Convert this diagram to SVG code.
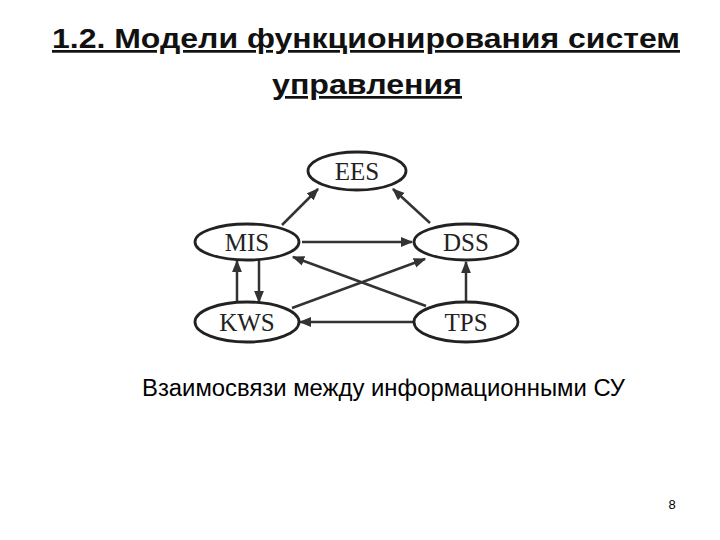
<svg xmlns="http://www.w3.org/2000/svg" width="720" height="540" viewBox="0 0 720 540">
<style>
.t{font-family:"Liberation Sans",Arial,sans-serif;font-weight:bold;font-size:27px;text-decoration:underline;fill:#111}
.n ellipse{fill:#fff;stroke:#222;stroke-width:2.8}
.n text{font-family:"Liberation Serif","Times New Roman",serif;font-size:25px;fill:#222;text-anchor:middle}
.c line{stroke:#333;stroke-width:2.5;marker-end:url(#a)}
</style>
<defs><marker id="a" viewBox="0 0 10 10" refX="9" refY="5" markerWidth="5" markerHeight="5" orient="auto" markerUnits="strokeWidth"><path d="M0,1L10,5L0,9z" fill="#333"/></marker></defs>
<rect width="720" height="540" fill="#fff"/>
<text class="t" x="52" y="48" textLength="628" lengthAdjust="spacingAndGlyphs">1.2. Модели функционирования систем</text>
<text class="t" x="272" y="94" textLength="190" lengthAdjust="spacingAndGlyphs">управления</text>
<g class="c">
<line x1="282" y1="225" x2="318" y2="189"/>
<line x1="430" y1="223" x2="393" y2="189"/>
<line x1="302" y1="242" x2="412" y2="242"/>
<line x1="426" y1="306" x2="293" y2="257"/>
<line x1="292" y1="308" x2="425" y2="259"/>
<line x1="466" y1="303" x2="466" y2="262"/>
<line x1="413" y1="322" x2="300" y2="322"/>
<line x1="237" y1="302" x2="237" y2="261"/>
<line x1="259" y1="260" x2="259" y2="302"/>
</g>
<g id="EES" class="n"><ellipse cx="357" cy="171" rx="49" ry="19"/><text x="357" y="180">EES</text></g>
<g id="MIS" class="n"><ellipse cx="247" cy="242" rx="52" ry="18"/><text x="247" y="251">MIS</text></g>
<g id="DSS" class="n"><ellipse cx="466" cy="242" rx="52" ry="18"/><text x="466" y="251">DSS</text></g>
<g id="KWS" class="n"><ellipse cx="247" cy="322" rx="52" ry="20"/><text x="247" y="331">KWS</text></g>
<g id="TPS" class="n"><ellipse cx="466" cy="322" rx="52" ry="20"/><text x="466" y="331">TPS</text></g>
<text x="142" y="396" textLength="483" lengthAdjust="spacingAndGlyphs" font-family="Liberation Sans,Arial,sans-serif" font-size="23">Взаимосвязи между информационными СУ</text>
<text x="672" y="509" text-anchor="middle" font-family="Liberation Sans,Arial,sans-serif" font-size="13">8</text>
</svg>
